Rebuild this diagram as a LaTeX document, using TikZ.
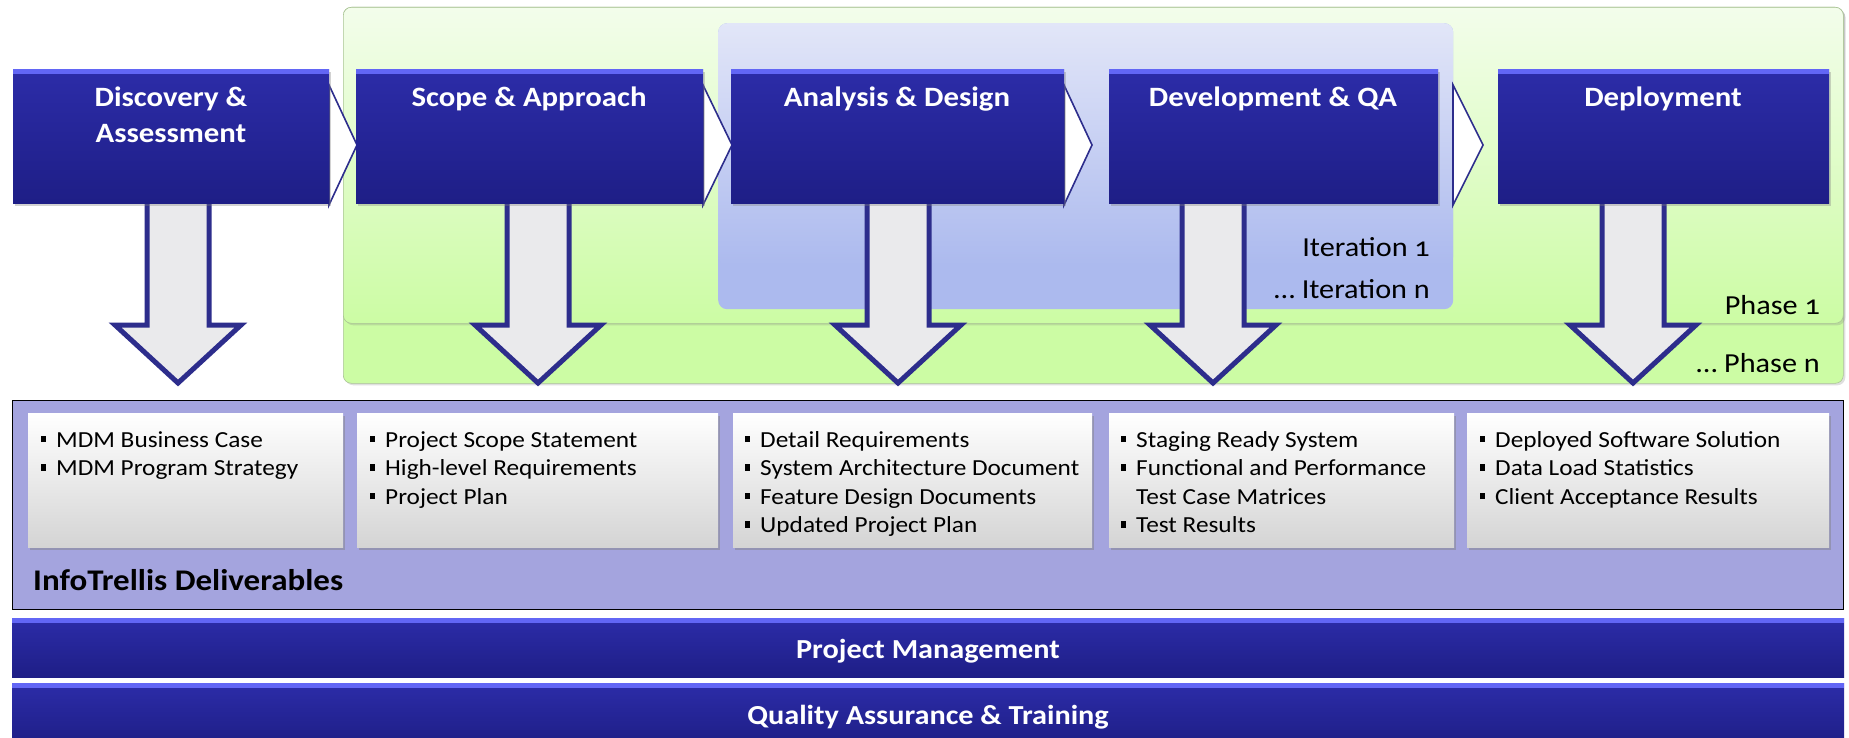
\documentclass[tikz,border=0pt]{standalone}
\usepackage{fontspec}
\setmainfont{Carlito}[FakeStretch=1.1]
\usetikzlibrary{shadows,calc}
\definecolor{boxtop}{RGB}{44,44,168}
\definecolor{boxbot}{RGB}{30,30,134}
\definecolor{boxhi}{RGB}{98,102,245}
\definecolor{arrline}{RGB}{45,45,140}
\definecolor{arrfill}{RGB}{234,234,236}
\definecolor{greentop}{RGB}{243,253,235}
\definecolor{greenbot}{RGB}{204,252,164}
\definecolor{greenedge}{RGB}{170,195,150}
\definecolor{itertop}{RGB}{226,230,248}
\definecolor{iterbot}{RGB}{172,186,238}
\definecolor{delivbg}{RGB}{164,164,222}
\definecolor{whitebot}{RGB}{212,212,212}
\newcommand\bul{\makebox[15pt][l]{\rule[5pt]{4.5pt}{6.5pt}}}
\tikzset{
  stagebox/.style={draw=none, top color=boxtop, bottom color=boxbot, inner sep=0pt, anchor=north west,
    drop shadow={opacity=0.35, shadow xshift=2pt, shadow yshift=-3pt},
    path picture={\fill[boxhi] (path picture bounding box.north west) rectangle ([yshift=-5pt]path picture bounding box.north east);}},
  stagetitle/.style={text=white, font=\fontsize{28}{36}\selectfont\bfseries, align=center, anchor=base, inner sep=0pt},
  chev/.style={draw=arrline, fill=white, line width=1.6pt, line join=miter},
  dnarr/.style={draw=arrline, fill=arrfill, line width=5pt, line join=miter},
  phasebox/.style={draw=greenedge, line width=0.6pt, rounded corners=8pt, inner sep=0pt, anchor=north west,
    drop shadow={opacity=0.25, shadow xshift=2pt, shadow yshift=-2pt}},
  iterbox/.style={draw=none, rounded corners=9pt, inner sep=0pt, anchor=north west},
  sidelabel/.style={font=\fontsize{27.5}{30}\selectfont\addfontfeatures{Numbers=OldStyle}, anchor=base east, inner sep=0pt},
  delbox/.style={draw=none, top color=white, bottom color=whitebot, inner sep=0pt, anchor=north west,
    minimum height=134pt, drop shadow={opacity=0.45, shadow xshift=2pt, shadow yshift=-3pt}},
  deltext/.style={font=\fontsize{23}{28.6}\selectfont, align=left, anchor=base west, inner sep=0pt},
  barbox/.style={draw=none, top color=boxtop, bottom color=boxbot, inner sep=0pt, anchor=north west,
    minimum width=1832pt,
    path picture={\fill[boxhi] (path picture bounding box.north west) rectangle ([yshift=-5pt]path picture bounding box.north east);}},
  bartext/.style={text=white, font=\fontsize{27.5}{30}\selectfont\bfseries, anchor=base, inner sep=0pt},
}
\newcommand\dnarrow[1]{\draw[dnarr] (#1-31,196) -- (#1-31,325) -- (#1-63,325) -- (#1,383) -- (#1+63,325) -- (#1+31,325) -- (#1+31,196) -- cycle;}
\begin{document}
\begin{tikzpicture}[x=1pt,y=-1pt]
\useasboundingbox[fill=white] (0,0) rectangle (1849,738);
% phases
\node[phasebox, fill=greenbot, minimum width=1500pt, minimum height=376pt] (phasen) at (343,7) {};
\node[phasebox, top color=greentop, bottom color=greenbot, minimum width=1500pt, minimum height=316pt] (phase1) at (343,7) {};
\node[sidelabel] (lphasen) at (1820,372) {\dots\ Phase n};
\node[sidelabel] (lphase1) at (1820,314) {Phase 1};
% iterations
\node[iterbox, fill=iterbot, minimum width=735pt, minimum height=286pt] (itern) at (718,23) {};
\node[iterbox, top color=itertop, bottom color=iterbot, minimum width=735pt, minimum height=242pt] (iter1) at (718,23) {};
\node[sidelabel] (liter1) at (1430,256) {Iteration 1};
\node[sidelabel] (litern) at (1430,298) {\dots\ Iteration n};
% down arrows
\dnarrow{178}
\dnarrow{538}
\dnarrow{898}
\dnarrow{1213}
\dnarrow{1633}
% chevrons
\draw[chev] (329,85) -- (357,145) -- (329,205) -- cycle;
\draw[chev] (703,85) -- (732,145) -- (703,205) -- cycle;
\draw[chev] (1064,85) -- (1092,145) -- (1064,205) -- cycle;
\draw[chev] (1453,85) -- (1483,145) -- (1453,205) -- cycle;
% stage boxes
\node[stagebox, minimum width=316pt, minimum height=134pt] (disc) at (13,69) {};
\node[stagebox, minimum width=347pt, minimum height=134pt] (scope) at (356,69) {};
\node[stagebox, minimum width=333pt, minimum height=134pt] (anal) at (731,69) {};
\node[stagebox, minimum width=329pt, minimum height=134pt] (dev) at (1109,69) {};
\node[stagebox, minimum width=331pt, minimum height=134pt] (depl) at (1498,69) {};
\node[stagetitle] (tdisc) at (171,143) {Discovery \&\\Assessment};
\node[stagetitle] (tscope) at (529,107) {Scope \& Approach};
\node[stagetitle] (tanal) at (897,107) {Analysis \& Design};
\node[stagetitle] (tdev) at (1273,107) {Development \& QA};
\node[stagetitle] (tdepl) at (1663,107) {Deployment};
% deliverables
\node[draw=black, line width=0.8pt, fill=delivbg, inner sep=0pt, anchor=north west, minimum width=1831pt, minimum height=209pt] (deliv) at (12,400) {};
\node[delbox, minimum width=315pt] (d1) at (28,413) {};
\node[delbox, minimum width=361pt] (d2) at (357,413) {};
\node[delbox, minimum width=359pt] (d3) at (733,413) {};
\node[delbox, minimum width=345pt] (d4) at (1109,413) {};
\node[delbox, minimum width=362pt] (d5) at (1467,413) {};
\node[deltext] (t1) at (41,475.6) {\bul MDM Business Case\\\bul MDM Program Strategy};
\node[deltext] (t2) at (370,504.2) {\bul Project Scope Statement\\\bul High-level Requirements\\\bul Project Plan};
\node[deltext] (t3) at (745,532.8) {\bul Detail Requirements\\\bul System Architecture Document\\\bul Feature Design Documents\\\bul Updated Project Plan};
\node[deltext] (t4) at (1121,532.8) {\bul Staging Ready System\\\bul Functional and Performance\\\hspace*{15pt}Test Case Matrices\\\bul Test Results};
\node[deltext] (t5) at (1480,504.2) {\bul Deployed Software Solution\\\bul Data Load Statistics\\\bul Client Acceptance Results};
\node[font=\fontsize{30}{32}\selectfont\bfseries, anchor=base west, inner sep=0pt] (ldeliv) at (33,590) {InfoTrellis Deliverables};
% bars
\node[barbox, minimum height=59pt] (pm) at (12,618) {};
\node[barbox, minimum height=62pt] (qa) at (12,683) {};
\node[bartext] (tpm) at (928,658) {Project Management};
\node[bartext] (tqa) at (928,724) {Quality Assurance \& Training};
\end{tikzpicture}
\end{document}
